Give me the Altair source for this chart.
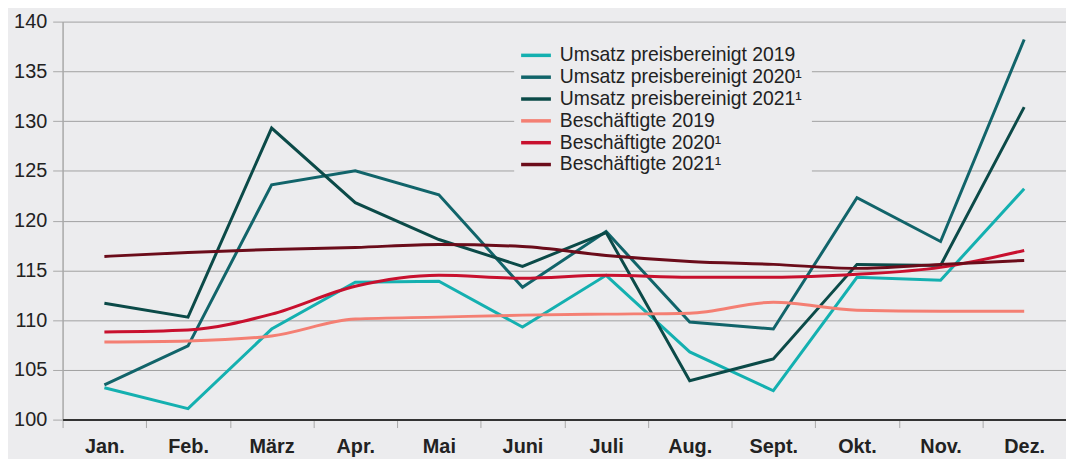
import altair as alt
import pandas as pd

months = ["Jan.", "Feb.", "März", "Apr.", "Mai", "Juni", "Juli", "Aug.", "Sept.", "Okt.", "Nov.", "Dez."]

umsatz_2019 = [103.2, 101.1, 109.1, 113.8, 113.9, 109.3, 114.5, 106.8, 102.9, 114.3, 114.0, 123.2]
umsatz_2020 = [103.5, 107.4, 123.6, 125.0, 122.6, 113.3, 118.9, 109.8, 109.1, 122.3, 117.9, 138.2]
umsatz_2021 = [111.7, 110.3, 129.3, 121.8, 118.1, 115.4, 118.8, 103.9, 106.1, 115.6, 115.5, 131.4]
besch_2019 = [107.8, 107.9, 108.4, 110.1, 110.3, 110.5, 110.6, 110.7, 111.8, 111.0, 110.9, 110.9]
besch_2020 = [108.8, 109.0, 110.6, 113.4, 114.5, 114.2, 114.5, 114.3, 114.3, 114.6, 115.3, 117.0]
besch_2021 = [116.4, 116.8, 117.1, 117.3, 117.6, 117.4, 116.5, 115.9, 115.6, 115.2, 115.6, 116.0]

series_names = [
    "Umsatz preisbereinigt 2019",
    "Umsatz preisbereinigt 2020¹",
    "Umsatz preisbereinigt 2021¹",
    "Beschäftigte 2019",
    "Beschäftigte 2020¹",
    "Beschäftigte 2021¹",
]
series_values = [umsatz_2019, umsatz_2020, umsatz_2021, besch_2019, besch_2020, besch_2021]
series_group = ["Umsatz", "Umsatz", "Umsatz", "Besch", "Besch", "Besch"]
colors = ["#14B0B0", "#11646A", "#0B4A48", "#F47F73", "#C8102E", "#6B0C1A"]

rows = []
for name, vals, grp in zip(series_names, series_values, series_group):
    for m, v in zip(months, vals):
        rows.append({"Monat": m, "Wert": v, "Reihe": name, "Gruppe": grp})
df = pd.DataFrame(rows)

BG = "#ECECEE"
FONT = "Liberation Sans"

x_enc = alt.X(
    "Monat:N",
    sort=months,
    scale=alt.Scale(paddingInner=0, paddingOuter=0),
    axis=alt.Axis(
        title=None,
        labelAngle=0,
        labelFontSize=20,
        labelFontWeight="bold",
        labelColor="#222222",
        labelFont=FONT,
        labelPadding=9,
        tickBand="extent",
        tickColor="#A8A8A8",
        tickSize=8,
        tickWidth=1,
        domainColor="#333333",
        domainWidth=2,
        grid=False,
        zindex=2,
    ),
)
y_enc = alt.Y(
    "Wert:Q",
    scale=alt.Scale(domain=[100, 140], nice=False, zero=False),
    axis=alt.Axis(
        title=None,
        values=[100, 105, 110, 115, 120, 125, 130, 135, 140],
        labelFontSize=20,
        labelColor="#222222",
        labelFont=FONT,
        labelPadding=6,
        tickColor="#A8A8A8",
        tickSize=10,
        domainColor="#A8A8A8",
        domainWidth=1.5,
        grid=True,
        gridColor="#A0A0A0",
        gridWidth=1,
    ),
)
color_enc = alt.Color(
    "Reihe:N",
    scale=alt.Scale(domain=series_names, range=colors),
    legend=alt.Legend(
        title=None,
        orient="none",
        legendX=455,
        legendY=12,
        padding=10,
        fillColor=BG,
        symbolType="M-1.5,0H1.5",
        symbolSize=400,
        symbolStrokeWidth=3.5,
        labelFontSize=19.5,
        labelFont=FONT,
        labelColor="#222222",
        labelOffset=12,
        rowPadding=0,
        labelLimit=400,
    ),
)

umsatz = alt.Chart(df).transform_filter(alt.datum.Gruppe == "Umsatz").mark_line(
    strokeWidth=3, interpolate="linear"
).encode(x=x_enc, y=y_enc, color=color_enc, detail="Reihe:N")

besch = alt.Chart(df).transform_filter(alt.datum.Gruppe == "Besch").mark_line(
    strokeWidth=3, interpolate="monotone"
).encode(x=x_enc, y=y_enc, color=color_enc, detail="Reihe:N")

chart = (
    alt.layer(umsatz, besch)
    .properties(
        width=1011,
        height=401,
        autosize=alt.AutoSizeParams(type="none"),
        padding={"left": 55, "top": 12, "right": 0, "bottom": 40},
        background=BG,
    )
    .configure_view(stroke=None, fill=BG)
)

chart.save("out.html", embed_options={"renderer": "svg", "actions": False})
